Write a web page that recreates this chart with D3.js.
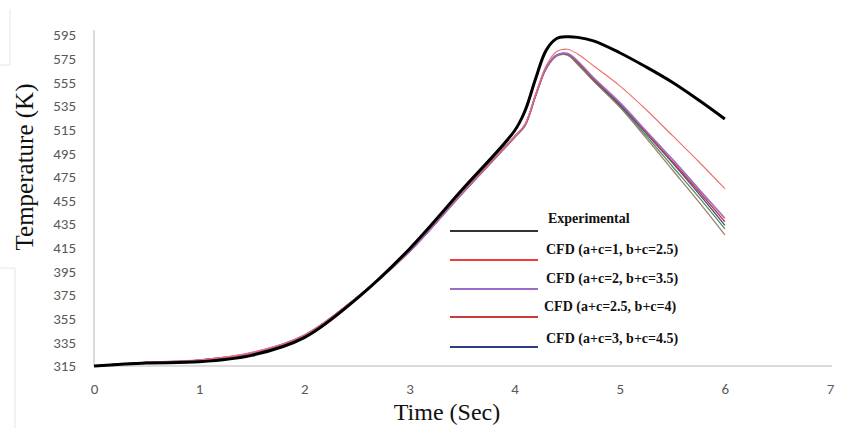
<!DOCTYPE html>
<html lang="en">
<head>
<meta charset="UTF-8" />
<script src="https://d3js.org/d3.v7.min.js"></script>
<title>Temperature vs time</title>
<style>
  body { margin:0; background:#fff; }
</style>
</head>
<body>
<script>
// data
var times = [0, 0.5, 1, 1.5, 2, 2.5, 3, 3.5, 4, 4.1, 4.2, 4.3, 4.4, 4.5, 4.6, 4.75, 5, 5.25, 5.5, 5.75, 6];
var experimental = [315, 317.5, 318.5, 324, 339, 372, 414, 464, 514, 531, 558, 582, 592, 593.5, 593, 590, 580, 568, 555, 540, 524];
var cfd1   = [315, 318, 320, 326.5, 341, 373, 413, 462, 509, 520, 545, 569, 581, 583, 579, 569, 552, 532, 510, 488, 465];
var cfd2   = [315, 318, 320, 326, 341, 373, 412, 461, 509, 519, 544, 567, 578, 579.5, 573, 559, 538, 514, 490, 465, 440];
var cfd25  = [315, 318, 320, 326, 341, 373, 412, 461, 509, 519, 544, 567, 578, 579, 572, 558, 537, 513, 488, 463, 437];
var cfd3   = [315, 318, 319.5, 325.5, 340.5, 372.5, 412, 461, 509, 519, 544, 567, 578, 579, 572, 557.5, 536, 512, 487, 461, 434];
var extraG = [315, 318, 320, 326, 341, 373, 412, 461, 509, 519, 544, 567, 578, 579, 571, 557, 535, 510, 484, 458, 431];
var extraB = [315, 317.5, 319.5, 325.5, 340, 372, 411.5, 460.5, 508, 518, 543, 566, 577, 578, 570, 556, 534, 508, 481, 454, 426];
var yTicks = [315, 335, 355, 375, 395, 415, 435, 455, 475, 495, 515, 535, 555, 575, 595];
var xTicks = [0, 1, 2, 3, 4, 5, 6, 7];
var legendLabels = ["Experimental", "CFD (a+c=1, b+c=2.5)", "CFD (a+c=2, b+c=3.5)", "CFD (a+c=2.5, b+c=4)", "CFD (a+c=3, b+c=4.5)"];

var W = 849, H = 428;
var margin = {top:35, left:94, right:19, bottom:62};
var width = W - margin.left - margin.right;
var height = H - margin.top - margin.bottom;

var svg = d3.select("body").append("svg").attr("width", W).attr("height", H);

// faint page box edges seen at left of the picture
svg.append("path").attr("d", "M10,9 L10,65 L0,65").attr("stroke", "#e6e6e6").attr("fill", "none");
svg.append("path").attr("d", "M0,268 L15,268 L15,428").attr("stroke", "#e6e6e6").attr("fill", "none");

var g = svg.append("g").attr("transform", "translate(" + margin.left + "," + margin.top + ")");

var x = d3.scaleLinear().domain([0, 7]).range([0, 736]);
var y = d3.scaleLinear().domain([315, 595]).range([height, 0]);

// axes
var yAxis = g.append("g").call(d3.axisLeft(y).tickValues(yTicks).tickSize(0).tickPadding(18));
var xAxis = g.append("g").attr("transform", "translate(0," + height + ")")
  .call(d3.axisBottom(x).tickValues(xTicks).tickFormat(d3.format("d")).tickSize(0).tickPadding(17));
[yAxis, xAxis].forEach(function(a){
  a.select(".domain").remove();
  a.selectAll("text").attr("fill", "#595959").style("font-family", "Carlito, 'Liberation Sans Narrow', 'Open Sans', sans-serif").style("font-size", "15px");
});
g.append("line").attr("x1", 0).attr("x2", 0).attr("y1", -5).attr("y2", height).attr("stroke", "#cfcfcf").attr("stroke-width", 1.5);
g.append("line").attr("x1", 0).attr("x2", x(7) + 2).attr("y1", height).attr("y2", height).attr("stroke", "#cfcfcf").attr("stroke-width", 1.5);

var line = d3.line()
  .x(function(d, i){ return x(times[i]); })
  .y(function(d){ return y(d); })
  .curve(d3.curveCatmullRom.alpha(0.5));

var series = [
  {v: extraB, c: "#9a8170", w: 1.3},
  {v: extraG, c: "#5b8c5b", w: 1.3},
  {v: cfd3,  c: "#3b4a8f", w: 1.3},
  {v: cfd25, c: "#c63d3a", w: 1.4},
  {v: cfd2,  c: "#9b6cc8", w: 1.6},
  {v: cfd1,  c: "#f46b6b", w: 1.1},
  {v: experimental, c: "#000000", w: 3}
];
series.forEach(function(s){
  g.append("path").datum(s.v).attr("d", line)
    .attr("fill", "none").attr("stroke", s.c).attr("stroke-width", s.w);
});

// legend
var legColors = ["#333333", "#f03c3c", "#9b6cc8", "#c83c3c", "#2f3b84"];
var legLineY = [231, 260, 289, 317, 347];
var legTextY = [223, 254, 283, 311, 343];
var legTextX = [548, 546, 546, 544, 546];
legendLabels.forEach(function(t, i){
  svg.append("line").attr("x1", 450).attr("x2", 538)
    .attr("y1", legLineY[i]).attr("y2", legLineY[i])
    .attr("stroke", legColors[i]).attr("stroke-width", 2);
  svg.append("text").attr("x", legTextX[i]).attr("y", legTextY[i])
    .text(t).attr("font-family", "'Liberation Serif', 'Times New Roman', serif")
    .attr("font-weight", "bold").attr("font-size", "14px").attr("fill", "#111");
});

// axis titles
svg.append("text").attr("transform", "translate(33,167) rotate(-90)")
  .attr("text-anchor", "middle").text("Temperature (K)")
  .attr("font-family", "'Liberation Serif', 'Times New Roman', serif").attr("font-size", "25px").attr("fill", "#111");
svg.append("text").attr("x", 447).attr("y", 420)
  .attr("text-anchor", "middle").text("Time (Sec)")
  .attr("font-family", "'Liberation Serif', 'Times New Roman', serif").attr("font-size", "24px").attr("fill", "#111");
</script>
</body>
</html>
